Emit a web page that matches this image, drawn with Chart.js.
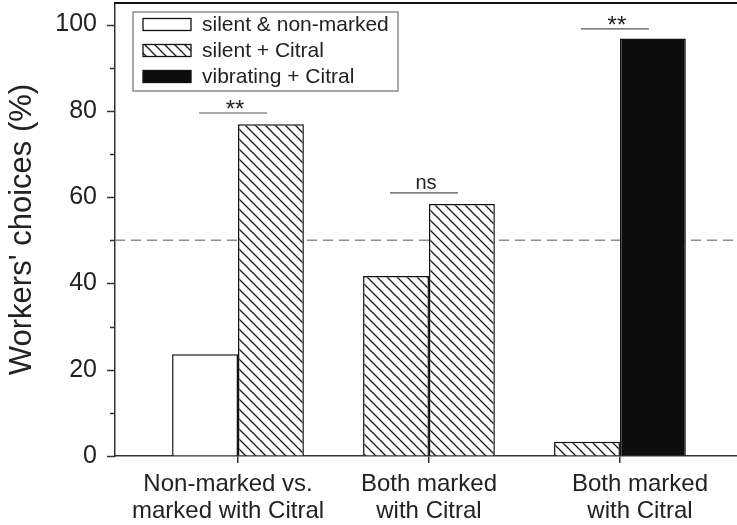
<!DOCTYPE html>
<html>
<head>
<meta charset="utf-8">
<script src="https://cdn.jsdelivr.net/npm/chart.js@4"></script>
<style>
  html, body { margin: 0; padding: 0; background: #fff; }
  #wrap { width: 737px; height: 525px; }
</style>
</head>
<body>
<div id="wrap"><canvas id="chart"></canvas></div>
<script>
// data
const categories = [['Non-marked vs.', 'marked with Citral'], ['Both marked', 'with Citral'], ['Both marked', 'with Citral']];
const seriesNames = ['silent & non-marked', 'silent + Citral', 'vibrating + Citral'];
const leftBars = [23.6, 41.7, 3.3];
const rightBars = [76.9, 58.4, 96.8];
const leftSeries = [0, 1, 1];   // which treatment each left bar shows
const rightSeries = [1, 1, 2];  // which treatment each right bar shows
const yTickLabels = [0, 20, 40, 60, 80, 100];
const chanceLevel = 50;
const sigLabels = ['**', 'ns', '**'];
const sigLevels = [79.5, 61, 99];

const FONT = "'Liberation Sans', Arial, sans-serif";
const INK = '#222';
// the category captions in the figure are not quite centred on their ticks
const labelNudge = [-0.052, 0, 0.105];

// diagonal hatch for the "silent + Citral" bars
function makeHatch() {
    const c = document.createElement('canvas');
    c.width = 10; c.height = 10;
    const g = c.getContext('2d');
    g.fillStyle = '#fff';
    g.fillRect(0, 0, 10, 10);
    g.strokeStyle = '#1a1a1a';
    g.lineWidth = 1.3;
    g.beginPath();
    g.moveTo(-2, -2); g.lineTo(12, 12);
    g.moveTo(-2, 8); g.lineTo(2, 12);
    g.moveTo(8, -2); g.lineTo(12, 2);
    g.stroke();
    return g.createPattern(c, 'repeat');
}
const hatch = makeHatch();
const fills = ['#ffffff', hatch, '#0d0d0d'];

const decor = {
    id: 'decor',
    beforeDatasetsDraw(chart) {
        const { ctx, chartArea: a, scales: { y } } = chart;
        const py = y.getPixelForValue(chanceLevel);
        ctx.save();
        ctx.strokeStyle = '#8a8a8a';
        ctx.lineWidth = 1.5;
        ctx.setLineDash([10, 6]);
        ctx.beginPath();
        ctx.moveTo(a.left, py);
        ctx.lineTo(a.right, py);
        ctx.stroke();
        ctx.restore();
    },
    afterDraw(chart) {
        const { ctx, chartArea: a, scales: { x, y } } = chart;
        ctx.save();
        // top frame
        ctx.strokeStyle = '#111';
        ctx.lineWidth = 2;
        ctx.beginPath();
        ctx.moveTo(a.left - 1, a.top);
        ctx.lineTo(a.right, a.top);
        ctx.stroke();

        // y tick marks, major and minor
        ctx.strokeStyle = '#333';
        ctx.lineWidth = 1.5;
        y.ticks.forEach(t => {
            const py = Math.round(y.getPixelForValue(t.value)) + 0.5;
            const len = yTickLabels.includes(t.value) ? 8 : 5;
            ctx.beginPath();
            ctx.moveTo(a.left - len, py);
            ctx.lineTo(a.left, py);
            ctx.stroke();
        });

        // significance marks
        ctx.textAlign = 'center';
        ctx.textBaseline = 'alphabetic';
        sigLabels.forEach((txt, i) => {
            const cx = x.getPixelForValue(i);
            const py = y.getPixelForValue(sigLevels[i]);
            ctx.strokeStyle = '#555';
            ctx.lineWidth = 1.2;
            ctx.beginPath();
            ctx.moveTo(cx - 39, py);
            ctx.lineTo(cx + 29, py);
            ctx.stroke();
            ctx.font = (txt === 'ns' ? 20 : 24) + 'px ' + FONT;
            ctx.fillStyle = INK;
            const m = ctx.measureText(txt);
            ctx.fillText(txt, cx - 3, py - 4 - m.actualBoundingBoxDescent);
        });

        // legend box
        const lx = a.left + 18, ly = a.top + 9;
        ctx.strokeStyle = '#8c8c8c';
        ctx.lineWidth = 1.5;
        ctx.strokeRect(lx, ly, 265, 79);
        ctx.font = '21px ' + FONT;
        ctx.textAlign = 'left';
        ctx.textBaseline = 'middle';
        seriesNames.forEach((name, i) => {
            const cy = ly + 12.5 + 26 * i;
            ctx.fillStyle = fills[i];
            ctx.fillRect(lx + 10, cy - 6, 48, 12);
            ctx.strokeStyle = '#111';
            ctx.lineWidth = 1.3;
            ctx.strokeRect(lx + 10, cy - 6, 48, 12);
            ctx.fillStyle = INK;
            ctx.fillText(name, lx + 69, cy + 1);
        });
        ctx.restore();
    }
};

const X_MIN = -0.644, X_MAX = 2.613;

const ctx = document.getElementById('chart').getContext('2d');
new Chart(ctx, {
    type: 'bar',
    data: {
        datasets: [
            {
                label: 'left',
                xAxisID: 'x',
                data: leftBars.map((v, i) => ({ x: i, y: v })),
                backgroundColor: leftSeries.map(s => fills[s])
            },
            {
                label: 'right',
                xAxisID: 'x',
                data: rightBars.map((v, i) => ({ x: i, y: v })),
                backgroundColor: rightSeries.map(s => fills[s])
            }
        ]
    },
    options: {
        responsive: true,
        maintainAspectRatio: false,
        animation: false,
        layout: { padding: { top: 3, right: 0, left: 0, bottom: 0 } },
        datasets: {
            bar: {
                categoryPercentage: 0.69,
                barPercentage: 1,
                borderColor: '#111',
                borderWidth: 1.5
            }
        },
        plugins: {
            legend: { display: false },
            tooltip: { enabled: false }
        },
        scales: {
            // tick marks at the group centres
            x: {
                type: 'linear',
                offset: false,
                min: X_MIN,
                max: X_MAX,
                weight: 0,
                afterBuildTicks: s => { s.ticks = categories.map((c, i) => ({ value: i })); },
                afterFit: s => { s.height = 7; s.paddingLeft = 0; s.paddingRight = 0; },
                ticks: { display: false, autoSkip: false },
                grid: { offset: false, drawOnChartArea: false, color: '#333', tickLength: 7, lineWidth: 1.5 },
                border: { color: '#333', width: 1.5 }
            },
            // category captions
            xl: {
                type: 'linear',
                axis: 'x',
                position: 'bottom',
                offset: false,
                min: X_MIN,
                max: X_MAX,
                weight: 1,
                afterBuildTicks: s => { s.ticks = categories.map((c, i) => ({ value: i + labelNudge[i] })); },
                afterFit: s => { s.height = 62; s.paddingLeft = 0; s.paddingRight = 0; },
                ticks: {
                    autoSkip: false,
                    maxRotation: 0,
                    padding: 0,
                    color: INK,
                    font: { family: FONT, size: 24, lineHeight: 1.11 },
                    callback: (v, i) => categories[i]
                },
                grid: { display: false, offset: false },
                border: { display: false }
            },
            y: {
                min: 0,
                max: 105,
                afterBuildTicks: s => { s.ticks = s.ticks.filter(t => t.value <= 100); },
                afterFit: s => { s.width = 115; s.paddingTop = 0; s.paddingBottom = 0; },
                ticks: {
                    stepSize: 10,
                    includeBounds: false,
                    autoSkip: false,
                    padding: 18,
                    color: INK,
                    font: { family: FONT, size: 25 },
                    callback: v => yTickLabels.includes(v) ? v : ''
                },
                grid: { drawOnChartArea: false, drawTicks: false },
                border: { color: '#333', width: 1.5 },
                title: {
                    display: true,
                    text: "Workers' choices (%)",
                    color: INK,
                    font: { family: FONT, size: 31 },
                    padding: { top: 4, bottom: 0 }
                }
            }
        }
    },
    plugins: [decor]
});
</script>
</body>
</html>
